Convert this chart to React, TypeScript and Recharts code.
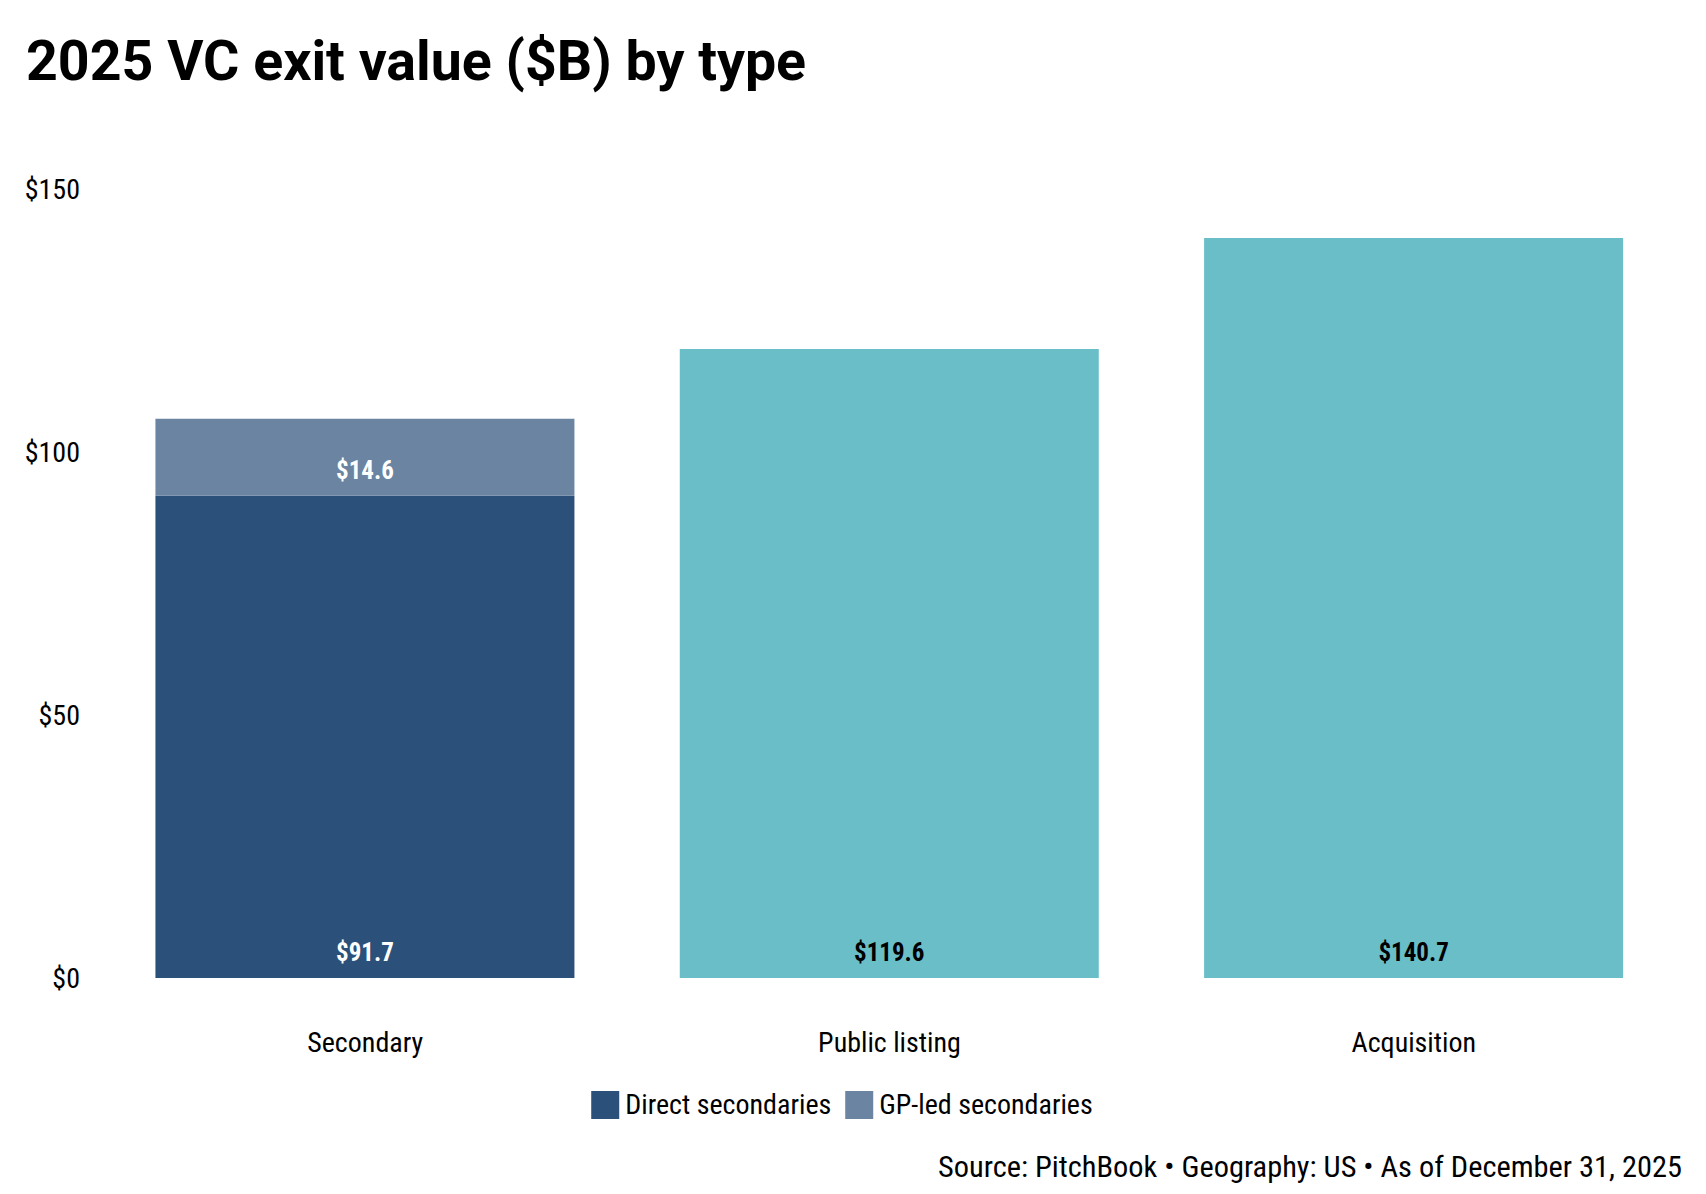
import React from 'react';
import { BarChart, Bar, XAxis, YAxis, LabelList } from 'recharts';

// values, $B
const categories = ['Secondary', 'Public listing', 'Acquisition'];
const directSecondaries = [91.7, null, null];
const gpLedSecondaries = [14.6, null, null];
const otherExits = [null, 119.6, 140.7];
const yTicks = [0, 50, 100, 150];

const seriesInfo = [
  { key: 'direct', name: 'Direct secondaries', color: '#2b507a', label: '#ffffff', legend: true },
  { key: 'gpLed', name: 'GP-led secondaries', color: '#6a84a2', label: '#ffffff', legend: true },
  { key: 'other', name: 'Exit value', color: '#69bec8', label: '#000000', legend: false },
];

const data = categories.map((c, i) => ({
  category: c,
  direct: directSecondaries[i],
  gpLed: gpLedSecondaries[i],
  other: otherExits[i],
}));

const W = 1706;
const H = 1194;
const FONT = "'Roboto Condensed', 'Liberation Sans Narrow', 'Arial Narrow', sans-serif";

const fmtLabel = (v: any) => (v == null ? '' : `$${Number(v).toFixed(1)}`);

const App: React.FC = () => {
  return (
    <div style={{ position: 'absolute', left: 0, top: 0, width: W, height: H, background: '#fff', overflow: 'hidden' }}>
      <BarChart
        width={W}
        height={H}
        data={data}
        margin={{ top: 189, right: 30, bottom: 136, left: 43 }}
        barCategoryGap="10%"
      >
        <XAxis
          dataKey="category"
          axisLine={false}
          tickLine={false}
          tickMargin={48}
          height={80}
          tick={{ fill: '#000', fontSize: 28, fontFamily: FONT }}
        />
        <YAxis
          domain={[0, 150]}
          ticks={yTicks}
          axisLine={false}
          tickLine={false}
          tickMargin={17}
          width={60}
          tickFormatter={(v: number) => `$${v}`}
          tick={{ fill: '#000', fontSize: 28, fontFamily: FONT }}
        />
        {seriesInfo.map((s) => (
          <Bar key={s.key} dataKey={s.key} name={s.name} stackId="a" fill={s.color} isAnimationActive={false}>
            <LabelList
              dataKey={s.key}
              position="insideBottom"
              offset={17}
              formatter={fmtLabel}
              fill={s.label}
              style={{ fontSize: 25, fontWeight: 700, fontFamily: FONT }}
            />
          </Bar>
        ))}
      </BarChart>

      <svg width={W} height={H} style={{ position: 'absolute', left: 0, top: 0, pointerEvents: 'none' }}>
        <text x={26} y={80} fontFamily="Roboto, sans-serif" fontWeight={700} fontSize={55.5} fill="#000">
          2025 VC exit value ($B) by type
        </text>
        <text x={1682} y={1177} textAnchor="end" fontFamily={FONT} fontSize={30.4} fill="#000">
          Source: PitchBook • Geography: US • As of December 31, 2025
        </text>
      </svg>

      <div
        style={{
          position: 'absolute',
          left: 842,
          top: 1091,
          transform: 'translateX(-50%)',
          display: 'flex',
          alignItems: 'center',
          fontFamily: FONT,
          fontSize: 28,
          whiteSpace: 'nowrap',
          lineHeight: '28px',
        }}
      >
        {seriesInfo
          .filter((s) => s.legend)
          .map((s, i) => (
            <div key={s.key} style={{ display: 'flex', alignItems: 'center', marginLeft: i === 0 ? 0 : 14 }}>
              <span style={{ display: 'inline-block', width: 28, height: 28, background: s.color, marginRight: 6 }} />
              <span>{s.name}</span>
            </div>
          ))}
      </div>
    </div>
  );
};

export default App;
